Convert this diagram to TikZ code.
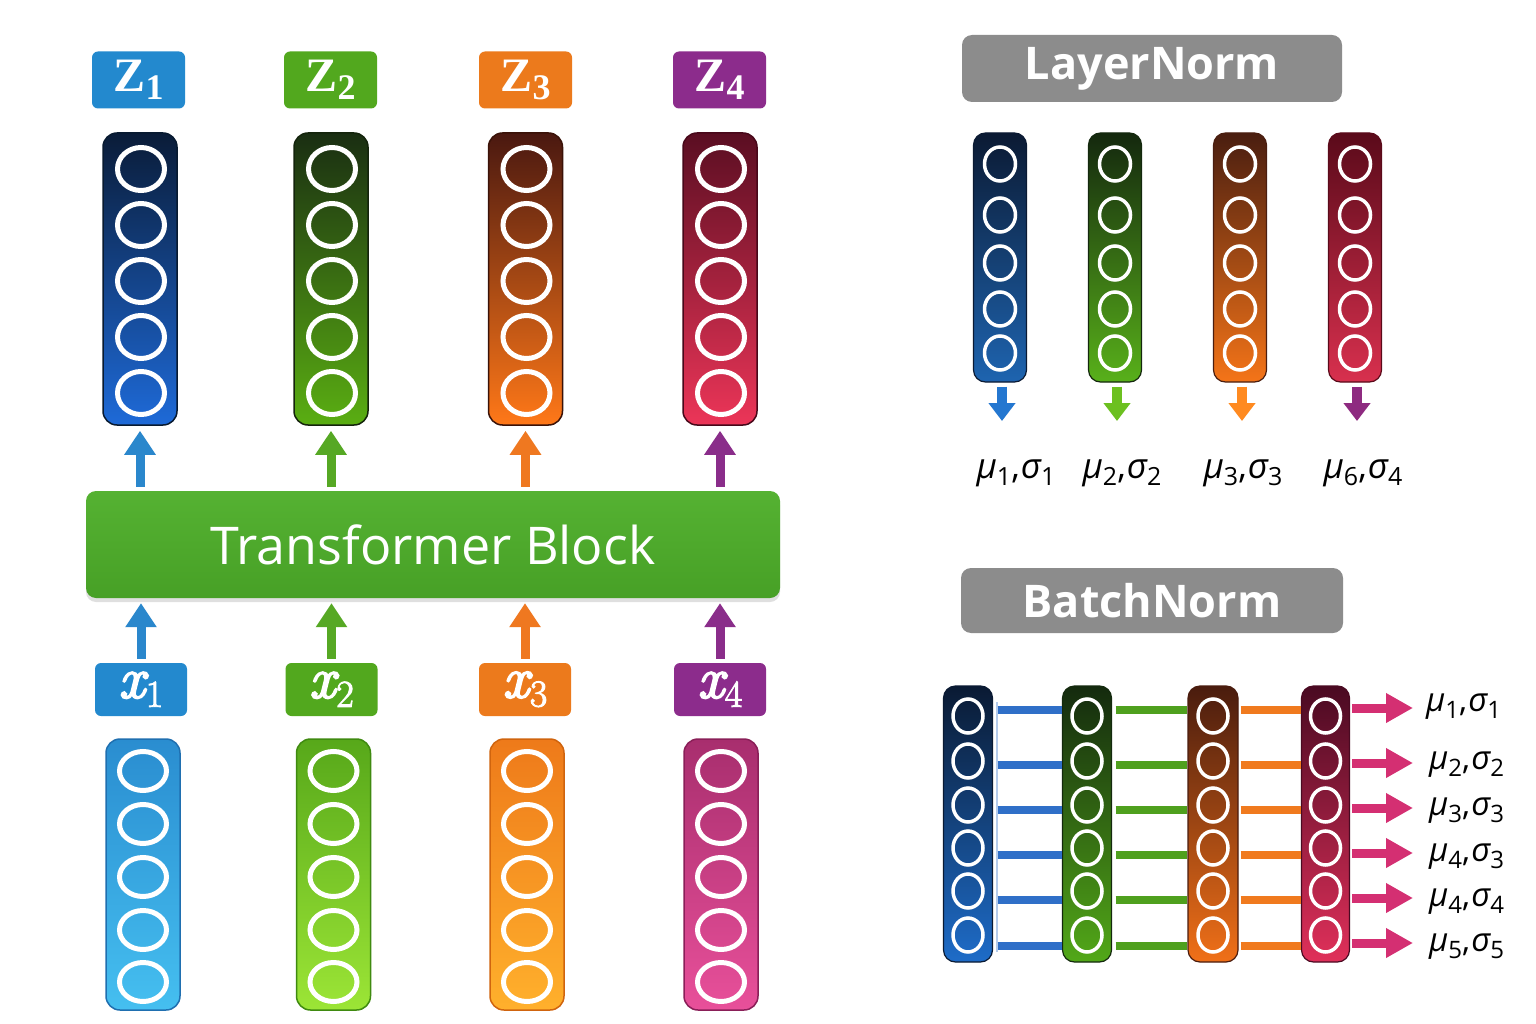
\documentclass[tikz,border=0pt]{standalone}
\usepackage{fontspec}
\setmainfont{Latin Modern Roman}
\newfontfamily\osans{Open Sans}
\newfontfamily\lserif{Liberation Serif}
\newfontfamily\xfont[UprightFeatures={FakeBold=2.5},ItalicFeatures={FakeBold=3.5}]{Latin Modern Roman}
\usetikzlibrary{shapes.geometric,shadows,arrows.meta}

% label boxes
\definecolor{lb1}{HTML}{2389CE}
\definecolor{lb2}{HTML}{52A81E}
\definecolor{lb3}{HTML}{EC7A1C}
\definecolor{lb4}{HTML}{8C2C8C}
% up arrows
\definecolor{ar1}{HTML}{2A87CC}
\definecolor{ar2}{HTML}{56A824}
\definecolor{ar3}{HTML}{EF7820}
\definecolor{ar4}{HTML}{8A2D8A}
% output columns
\definecolor{ot1}{HTML}{0A1C38}\definecolor{ob1}{HTML}{1E6AD8}\definecolor{od1}{HTML}{081A30}
\definecolor{ot2}{HTML}{1A2E12}\definecolor{ob2}{HTML}{5AAE12}\definecolor{od2}{HTML}{14240C}
\definecolor{ot3}{HTML}{4A1810}\definecolor{ob3}{HTML}{FF7818}\definecolor{od3}{HTML}{3A1208}
\definecolor{ot4}{HTML}{5A0E22}\definecolor{ob4}{HTML}{EC3558}\definecolor{od4}{HTML}{48081A}
% input columns
\definecolor{it1}{HTML}{2A8DD0}\definecolor{ib1}{HTML}{45BFF0}\definecolor{id1}{HTML}{1F6FB0}
\definecolor{it2}{HTML}{57A81A}\definecolor{ib2}{HTML}{9CE536}\definecolor{id2}{HTML}{3F8A10}
\definecolor{it3}{HTML}{EE7A1A}\definecolor{ib3}{HTML}{FFB02C}\definecolor{id3}{HTML}{D0640E}
\definecolor{it4}{HTML}{A82E6E}\definecolor{ib4}{HTML}{E8509A}\definecolor{id4}{HTML}{8A1F58}
% layernorm columns
\definecolor{lt1}{HTML}{0B1A33}\definecolor{lbb1}{HTML}{1E64B0}
\definecolor{lt2}{HTML}{14280E}\definecolor{lbb2}{HTML}{58B01A}
\definecolor{lt3}{HTML}{4A1E10}\definecolor{lbb3}{HTML}{F47418}
\definecolor{lt4}{HTML}{5A0A1A}\definecolor{lbb4}{HTML}{D8304E}
\definecolor{da1}{HTML}{2477D0}
\definecolor{da2}{HTML}{6CC020}
\definecolor{da3}{HTML}{FF8A20}
\definecolor{da4}{HTML}{8E2A80}
% batchnorm columns
\definecolor{bt1}{HTML}{0A1A33}\definecolor{bb1}{HTML}{1E6CC8}
\definecolor{bt2}{HTML}{142A0E}\definecolor{bb2}{HTML}{52A818}
\definecolor{bt3}{HTML}{4A1C0E}\definecolor{bb3}{HTML}{F07018}
\definecolor{bt4}{HTML}{4A0A22}\definecolor{bb4}{HTML}{E0305A}
\definecolor{barb}{HTML}{2F6FC8}
\definecolor{barg}{HTML}{4FA01E}
\definecolor{baro}{HTML}{F07A1E}
\definecolor{pinkarr}{HTML}{D42F72}
\definecolor{hdrgray}{HTML}{8C8C8C}
\definecolor{tbtop}{HTML}{55B232}
\definecolor{tbbot}{HTML}{47A026}

\newcommand\zlab[1]{\lserif\fontsize{48}{48}\selectfont\bfseries Z\raisebox{-8pt}{\fontsize{36}{36}\selectfont #1}}
\newcommand\xlab[1]{\xfont\fontsize{58}{58}\selectfont\itshape x\hspace{1pt}\raisebox{-9pt}{\upshape\fontsize{38}{38}\selectfont #1}}
\newcommand\musig[3]{{\osans\fontsize{#1}{#1}\selectfont\itshape μ\raisebox{-0.2em}{\upshape\fontsize{#2}{#2}\selectfont #3}}}
\newcommand\mspair[4]{\musig{#1}{#2}{#3}{\osans\fontsize{#1}{#1}\selectfont,\hspace{1pt}}{\osans\fontsize{#1}{#1}\selectfont\itshape σ\raisebox{-0.2em}{\upshape\fontsize{#2}{#2}\selectfont #4}}}

\begin{document}
\begin{tikzpicture}[x=1pt,y=-1pt,
  col/.style={rounded corners=14pt, line width=1.5pt, inner sep=0pt},
  scol/.style={rounded corners=12pt, line width=1.2pt, inner sep=0pt},
  ring/.style={ellipse, draw=white, line width=5pt, inner sep=0pt, minimum width=47pt, minimum height=43pt},
  ringb/.style={ellipse, draw=white, line width=5pt, inner sep=0pt, minimum width=47pt, minimum height=39pt},
  sring/.style={ellipse, draw=white, line width=3.5pt, inner sep=0pt, minimum width=31pt, minimum height=34pt},
  lab/.style={rounded corners=6pt, inner sep=0pt, text=white, minimum width=93pt, minimum height=57pt},
  xbox/.style={rounded corners=6pt, inner sep=0pt, text=white, minimum width=92pt, minimum height=53pt},
  uparr/.style={line width=9pt, -{Triangle[width=30pt,length=24pt]}, shorten <=4pt, shorten >=5pt},
  dnarr/.style={line width=10pt, -{Triangle[width=26pt,length=18pt]}, shorten <=4pt},
  rarr/.style={pinkarr, line width=9pt, -{Triangle[width=28pt,length=27pt]}, shorten <=2pt},
  bar/.style={line width=8pt},
  hdr/.style={fill=hdrgray, rounded corners=10pt, text=white, inner sep=0pt,
    font=\osans\bfseries\fontsize{45}{50}\selectfont},
  tbk/.style={top color=tbtop, bottom color=tbbot, rounded corners=10pt, text=white,
    minimum width=694pt, minimum height=107pt, inner sep=0pt,
    drop shadow={opacity=0.25, shadow xshift=0pt, shadow yshift=-4pt},
    font=\osans\fontsize{52}{58}\selectfont},
  mlab/.style={inner sep=0pt, text=black}
]
\fill[white] (0,0) rectangle (1536,1024);
\useasboundingbox (0,0) rectangle (1536,1024);

% ---------- left: Z labels ----------
\foreach \i/\x in {1/138.5,2/330.5,3/525.5,4/719.5}
  \node[lab, fill=lb\i] (z\i) at (\x,80) {\zlab{\i}};

% ---------- output columns ----------
\foreach \i/\x in {1/140,2/331,3/525.5,4/720}
{
  \node[col, minimum width=74pt, minimum height=292pt, top color=ot\i, bottom color=ob\i, draw=od\i] (zc\i) at (\x,279) {};
  \foreach \j/\y in {1/169,2/225,3/281,4/337,5/393}
    \node[ring] (zc\i-\j) at (\x+1,\y) {};
}

% ---------- transformer block ----------
\node[tbk] (tb) at (433,544.5) {Transformer Block};

\foreach \i in {1,2,3,4}
  \draw[uparr, ar\i] (tb.north -| zc\i) -- (zc\i.south);

% ---------- x labels ----------
\foreach \i/\x in {1/141,2/331.5,3/525,4/720}
  \node[xbox, fill=lb\i] (x\i) at (\x,689.5) {\xlab{\i}};

\foreach \i in {1,2,3,4}
  \draw[uparr, ar\i] (x\i.north) -- (x\i.north |- tb.south);

% ---------- input columns ----------
\foreach \i/\x in {1/143,2/333.5,3/527,4/721}
{
  \node[col, minimum width=74pt, minimum height=271pt, top color=it\i, bottom color=ib\i, draw=id\i] (ic\i) at (\x,874.5) {};
  \foreach \j/\y in {1/771,2/824,3/877,4/930,5/982}
    \node[ringb] (ic\i-\j) at (\x,\y) {};
}

% ---------- LayerNorm ----------
\node[hdr, minimum width=380pt, minimum height=67pt] (ln) at (1152,68.5) {LayerNorm};

\foreach \i/\x in {1/1000,2/1115,3/1240,4/1355}
{
  \node[scol, minimum width=53pt, minimum height=249pt, top color=lt\i, bottom color=lbb\i, draw=lt\i] (lc\i) at (\x,257.5) {};
  \foreach \j/\y in {1/164,2/215,3/263,4/309,5/353}
    \node[sring] (lc\i-\j) at (\x,\y) {};
  \coordinate (la\i) at (\x+2,421);
  \draw[dnarr, da\i] (lc\i.south -| la\i) -- (la\i);
}

\node[mlab] (lm1) at (1016,473) {\mspair{35}{25}{1}{1}};
\node[mlab] (lm2) at (1122,473) {\mspair{35}{25}{2}{2}};
\node[mlab] (lm3) at (1243,473) {\mspair{35}{25}{3}{3}};
\node[mlab] (lm4) at (1363,473) {\mspair{35}{25}{6}{4}};

% ---------- BatchNorm ----------
\node[hdr, minimum width=382pt, minimum height=65pt] (bn) at (1152,600.5) {BatchNorm};

\foreach \k/\y in {1/710,2/765,3/810,4/855,5/900,6/946}
  \coordinate (r\k) at (0,\y);

% faint rail at left of the blue bars
\draw[barb!60, line width=2pt, opacity=0.6] (997,702) -- (997,952);

\foreach \i/\x/\w in {1/968/49,2/1087/49,3/1213/50,4/1325.5/48}
{
  \node[scol, minimum width=\w pt, minimum height=276pt, top color=bt\i, bottom color=bb\i, draw=bt\i] (bc\i) at (\x,824) {};
  \foreach \j/\y in {1/716,2/761,3/805,4/848,5/891,6/935}
    \node[sring, minimum width=30pt, minimum height=34pt] (bc\i-\j) at (\x,\y) {};
}

\foreach \k in {1,...,6}
{
  \draw[bar, barb] (bc1.east |- r\k) ++(4.5,0) -- (bc2.west |- r\k);
  \draw[bar, barg] (bc2.east |- r\k) ++(3.5,0) -- (bc3.west |- r\k);
  \draw[bar, baro] (bc3.east |- r\k) ++(2,0) -- (bc4.west |- r\k);
}

\foreach \k/\y in {1/708,2/763,3/808,4/853,5/898,6/943}
{
  \coordinate (pa\k) at (1413,\y);
  \draw[rarr] (bc4.east |- pa\k) -- (pa\k);
}

\node[mlab, anchor=west] (bl1) at (1426,707) {\mspair{33}{24}{1}{1}};
\node[mlab, anchor=west] (bl2) at (1429,765) {\mspair{33}{24}{2}{2}};
\node[mlab, anchor=west] (bl3) at (1429,811) {\mspair{33}{24}{3}{3}};
\node[mlab, anchor=west] (bl4) at (1429,857) {\mspair{33}{24}{4}{3}};
\node[mlab, anchor=west] (bl5) at (1429,902) {\mspair{33}{24}{4}{4}};
\node[mlab, anchor=west] (bl6) at (1429,947) {\mspair{33}{24}{5}{5}};
\end{tikzpicture}
\end{document}
